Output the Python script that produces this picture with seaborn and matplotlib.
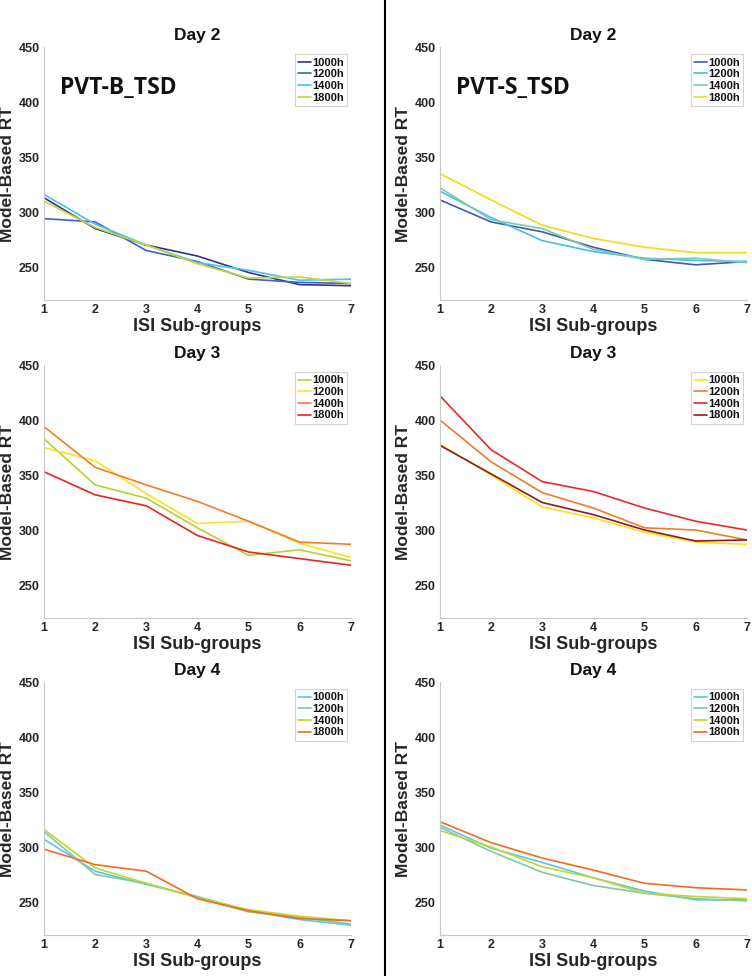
import matplotlib
matplotlib.use('Agg')
import pandas as pd
import matplotlib.pyplot as plt
import seaborn as sns
from matplotlib.lines import Line2D

sns.set_style("white")
plt.rcParams.update({'font.family': ['Liberation Sans', 'DejaVu Sans'], 'font.weight': 'bold'})

ISI = [1, 2, 3, 4, 5, 6, 7]
SESSIONS = ["1000h", "1200h", "1400h", "1800h"]

# PVT-B_TSD (left column)
b_day2 = {"1000h": [313, 285, 270, 260, 245, 234, 233],
          "1200h": [294, 291, 265, 255, 239, 236, 235],
          "1400h": [316, 289, 270, 254, 247, 238, 239],
          "1800h": [310, 286, 270, 253, 240, 241, 235]}
b_day3 = {"1000h": [383, 341, 329, 302, 277, 282, 272],
          "1200h": [375, 363, 333, 306, 308, 288, 275],
          "1400h": [394, 357, 341, 326, 308, 289, 287],
          "1800h": [353, 332, 322, 295, 280, 274, 268]}
b_day4 = {"1000h": [307, 278, 266, 255, 242, 234, 229],
          "1200h": [314, 275, 267, 254, 241, 236, 230],
          "1400h": [316, 281, 267, 254, 243, 237, 233],
          "1800h": [298, 284, 278, 253, 242, 235, 233]}

# PVT-S_TSD (right column)
s_day2 = {"1000h": [311, 291, 282, 268, 257, 252, 255],
          "1200h": [319, 295, 274, 264, 258, 256, 255],
          "1400h": [322, 293, 285, 266, 257, 258, 254],
          "1800h": [335, 311, 288, 276, 268, 263, 263]}
s_day3 = {"1000h": [378, 350, 321, 311, 298, 289, 287],
          "1200h": [400, 362, 334, 320, 302, 300, 291],
          "1400h": [422, 373, 344, 335, 320, 308, 300],
          "1800h": [377, 351, 325, 314, 300, 290, 291]}
s_day4 = {"1000h": [320, 299, 286, 272, 260, 252, 252],
          "1200h": [318, 296, 277, 265, 258, 253, 251],
          "1400h": [315, 300, 282, 272, 258, 255, 253],
          "1800h": [323, 304, 290, 279, 267, 263, 261]}

PAL_B2 = ["#34338a", "#3f63c4", "#46c3f0", "#c6d531"]
PAL_S2 = ["#3a5cb8", "#48bcf0", "#7dcba6", "#fad51e"]
PAL_B3 = ["#b3d334", "#fde31c", "#f47b2c", "#e52525"]
PAL_S3 = ["#fde01c", "#f07a30", "#e82a2a", "#8b1c1c"]
PAL_D4 = ["#59c6f0", "#7fc8a4", "#c1d62f", "#f26c21"]

panels = [
    (b_day2, PAL_B2, "Day 2", "PVT-B_TSD", 0.0585, 0.6926),
    (s_day2, PAL_S2, "Day 2", "PVT-S_TSD", 0.585, 0.6926),
    (b_day3, PAL_B3, "Day 3", None, 0.0585, 0.3668),
    (s_day3, PAL_S3, "Day 3", None, 0.585, 0.3668),
    (b_day4, PAL_D4, "Day 4", None, 0.0585, 0.042),
    (s_day4, PAL_D4, "Day 4", None, 0.585, 0.042),
]

fig = plt.figure(figsize=(7.52, 9.76), dpi=100)
AX_W, AX_H = 0.408, 0.2592
TXT = "#262626"

for data, pal, title, tag, x0, y0 in panels:
    ax = fig.add_axes([x0, y0, AX_W, AX_H])
    df = pd.DataFrame([(s, i, v) for s in SESSIONS for i, v in zip(ISI, data[s])],
                      columns=["session", "isi", "rt"])
    sns.lineplot(data=df, x="isi", y="rt", hue="session", hue_order=SESSIONS,
                 palette=dict(zip(SESSIONS, pal)), linewidth=1.2, ax=ax)
    ax.set_xlim(1, 7)
    ax.set_ylim(220, 450)
    ax.set_xticks(ISI)
    ax.set_yticks([250, 300, 350, 400, 450])
    ax.tick_params(direction="in", length=2, color="#c8c8c8", labelsize=9, labelcolor=TXT, pad=3)
    for lbl in ax.get_xticklabels() + ax.get_yticklabels():
        lbl.set_fontweight("bold")
    for side in ["top", "right"]:
        ax.spines[side].set_visible(False)
    for side in ["left", "bottom"]:
        ax.spines[side].set_color("#c8c8c8")
        ax.spines[side].set_linewidth(0.8)
    ax.set_title(title, fontsize=12.5, fontweight="bold", color="#111111", pad=5)
    ax.set_xlabel("ISI Sub-groups", fontsize=13, fontweight="bold", color=TXT, labelpad=1)
    ax.set_ylabel("Model-Based RT", fontsize=12.5, fontweight="bold", color=TXT)
    ax.yaxis.set_label_coords(-0.095, 0.5)
    leg = ax.legend(loc="upper right", bbox_to_anchor=(1.0, 0.985), handlelength=1.2,
                    handletextpad=0.1, borderpad=0.3, labelspacing=0.15, fontsize=8,
                    frameon=True, fancybox=False, borderaxespad=0.3)
    leg.get_frame().set_edgecolor("#c8c8c8")
    leg.get_frame().set_linewidth(0.8)
    for t in leg.get_texts():
        t.set_fontweight("bold")
        t.set_color("#111111")
    if tag:
        ax.text(1.31, 413, tag, fontsize=16.5, fontweight="bold", color="#111111",
                family=["Open Sans", "DejaVu Sans"], va="center", ha="left")

fig.add_artist(Line2D([385 / 752, 385 / 752], [0, 1], color="black", linewidth=1.5,
                      transform=fig.transFigure))

plt.savefig("out.png", dpi=100)
plt.close()
